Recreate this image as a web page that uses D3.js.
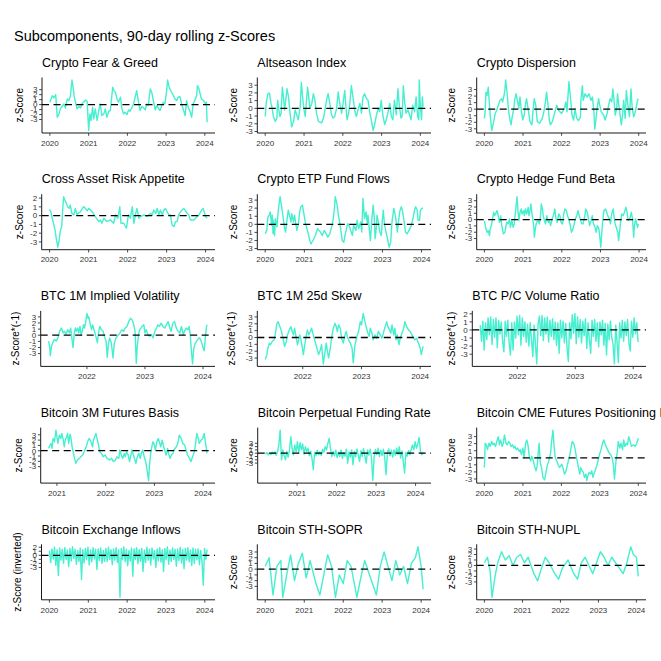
<!DOCTYPE html>
<html>
<head>
<meta charset="utf-8">
<script src="https://cdn.jsdelivr.net/npm/d3@7"></script>
<style>
  body { margin: 0; background: #fff; }
  text { font-family: "Liberation Sans", Arial, sans-serif; }
</style>
</head>
<body>
<svg id="chart" width="661" height="661"></svg>
<script>
// ---- data: [decimal year, z-score] ----
const fearGreed = [[2020.00,0.47],[2020.06,1.8],[2020.10,1.33],[2020.15,2.0],[2020.19,-2.53],[2020.23,-2.0],[2020.27,-0.87],[2020.36,0.13],[2020.40,-0.67],[2020.45,1.13],[2020.49,0.8],[2020.53,1.8],[2020.57,4.93],[2020.60,3.47],[2020.63,1.47],[2020.67,0.13],[2020.70,-0.87],[2020.75,-0.4],[2020.79,-0.67],[2020.83,0.27],[2020.87,0.47],[2020.92,0.93],[2020.96,0.67],[2021.00,-5.2],[2021.03,-1.87],[2021.06,-3.2],[2021.10,-0.53],[2021.13,-2.87],[2021.17,-0.87],[2021.22,-3.2],[2021.26,-1.2],[2021.30,0.13],[2021.34,-2.2],[2021.39,-1.87],[2021.43,-0.87],[2021.47,-2.53],[2021.52,-1.33],[2021.56,-1.2],[2021.59,1.13],[2021.62,3.47],[2021.65,2.8],[2021.69,2.47],[2021.73,1.13],[2021.77,0.47],[2021.82,1.47],[2021.86,-0.87],[2021.90,-1.87],[2021.94,-1.53],[2021.99,-2.0],[2022.03,-1.07],[2022.07,-1.33],[2022.12,-0.53],[2022.16,0.13],[2022.20,1.47],[2022.24,2.8],[2022.28,0.8],[2022.33,-1.2],[2022.37,-0.4],[2022.42,-0.67],[2022.46,-1.07],[2022.50,0.13],[2022.54,-0.2],[2022.59,3.13],[2022.63,2.47],[2022.67,0.8],[2022.72,-1.07],[2022.76,-0.2],[2022.80,-0.67],[2022.84,-1.2],[2022.89,-0.2],[2022.93,0.47],[2022.97,0.13],[2023.01,2.47],[2023.04,4.93],[2023.08,3.47],[2023.14,2.47],[2023.19,1.8],[2023.23,1.13],[2023.27,0.8],[2023.31,1.47],[2023.36,1.6],[2023.40,0.13],[2023.44,-0.87],[2023.49,-2.2],[2023.53,0.8],[2023.57,-0.53],[2023.61,-1.2],[2023.66,-2.53],[2023.70,0.13],[2023.74,0.8],[2023.79,1.8],[2023.81,3.8],[2023.85,3.13],[2023.87,2.47],[2023.91,1.13],[2023.97,0.8],[2024.02,0.13],[2024.04,0.47],[2024.06,-3.53]];

const altseason = [[2020.00,-1.05],[2020.03,0.84],[2020.07,1.9],[2020.11,1.98],[2020.13,1.27],[2020.15,0.63],[2020.18,0],[2020.21,-1.05],[2020.26,-1.69],[2020.30,-1.27],[2020.32,1.05],[2020.35,-0.21],[2020.38,-1.05],[2020.41,-0.63],[2020.44,2.74],[2020.47,1.48],[2020.50,-0.21],[2020.53,1.05],[2020.56,2.53],[2020.60,1.48],[2020.64,-0.63],[2020.68,-2.41],[2020.73,-1.69],[2020.77,-0.21],[2020.81,-0.84],[2020.85,-1.48],[2020.90,0.21],[2020.93,3.38],[2020.97,1.05],[2021.00,-0.21],[2021.03,-1.05],[2021.09,2.74],[2021.12,1.48],[2021.15,0],[2021.20,0.63],[2021.24,1.9],[2021.28,1.05],[2021.32,-0.63],[2021.37,-1.69],[2021.45,-1.9],[2021.50,-1.27],[2021.54,-0.21],[2021.58,1.05],[2021.62,1.9],[2021.67,0.42],[2021.71,-0.84],[2021.75,-1.27],[2021.79,-1.05],[2021.84,0],[2021.88,2.11],[2021.92,0.63],[2021.97,-0.63],[2022.01,0.84],[2022.05,2.32],[2022.08,0.21],[2022.11,-1.48],[2022.15,-0.63],[2022.18,0.63],[2022.22,2.95],[2022.26,1.48],[2022.31,-0.42],[2022.35,-1.05],[2022.39,-0.21],[2022.44,0.63],[2022.48,-0.63],[2022.52,1.48],[2022.56,1.9],[2022.61,1.27],[2022.65,1.05],[2022.69,-0.42],[2022.74,-1.69],[2022.78,-2.87],[2022.82,-2.11],[2022.86,-1.05],[2022.91,0],[2022.95,-0.42],[2022.99,1.05],[2023.03,-0.84],[2023.08,-2.11],[2023.12,-1.48],[2023.16,-0.63],[2023.21,0.63],[2023.25,-1.05],[2023.29,-1.48],[2023.33,1.05],[2023.38,-0.84],[2023.42,2.53],[2023.46,0.21],[2023.50,-1.27],[2023.53,-1.05],[2023.56,2.95],[2023.59,1.05],[2023.63,-0.63],[2023.68,-0.21],[2023.72,-0.84],[2023.76,-1.48],[2023.80,0.42],[2023.85,-0.42],[2023.89,1.48],[2023.93,-1.05],[2023.96,-1.48],[2023.97,3.67],[2024.00,0.21],[2024.03,-1.48],[2024.05,1.48],[2024.07,0.21]];

const dispersion = [[2020.00,-1.4],[2020.02,-0.4],[2020.04,2.6],[2020.07,2.1],[2020.10,3.35],[2020.13,0.85],[2020.15,-0.9],[2020.19,-3.25],[2020.24,-1.9],[2020.28,-0.65],[2020.32,-0.15],[2020.36,0.6],[2020.40,1.35],[2020.45,1.6],[2020.47,1.1],[2020.50,1.85],[2020.53,2.85],[2020.55,4.45],[2020.59,2.35],[2020.62,0.1],[2020.66,-1.65],[2020.69,-2.4],[2020.72,-1.15],[2020.76,0.1],[2020.79,1.6],[2020.82,2.35],[2020.86,1.1],[2020.89,0.1],[2020.92,1.85],[2020.96,-0.4],[2020.99,-1.65],[2021.03,-0.9],[2021.06,0.6],[2021.09,1.6],[2021.13,0.1],[2021.18,-1.9],[2021.23,-2.4],[2021.26,-0.15],[2021.29,1.6],[2021.33,0.6],[2021.37,-1.9],[2021.43,-2.15],[2021.50,-1.4],[2021.54,-0.4],[2021.58,1.1],[2021.61,2.6],[2021.65,0.6],[2021.68,-1.65],[2021.71,-2.4],[2021.76,-1.9],[2021.83,-0.4],[2021.87,0.6],[2021.92,-0.15],[2022.00,-0.65],[2022.07,0.1],[2022.11,1.1],[2022.14,-0.4],[2022.19,4.2],[2022.23,1.85],[2022.27,-0.9],[2022.31,-1.65],[2022.35,0.1],[2022.39,-1.4],[2022.44,-1.75],[2022.49,-1.15],[2022.50,1.35],[2022.54,3.6],[2022.56,1.35],[2022.61,2.35],[2022.66,1.85],[2022.71,2.35],[2022.76,1.35],[2022.80,1.85],[2022.84,-0.4],[2022.86,-3.05],[2022.89,-1.65],[2022.92,0.1],[2022.96,1.6],[2022.99,0.6],[2023.03,-0.4],[2023.09,-0.9],[2023.13,-1.65],[2023.18,-0.65],[2023.22,0.6],[2023.26,1.6],[2023.30,1.1],[2023.33,3.1],[2023.36,1.35],[2023.39,-0.9],[2023.43,0.1],[2023.45,2.35],[2023.49,0.35],[2023.55,-2.4],[2023.58,-0.9],[2023.61,1.35],[2023.65,-1.4],[2023.68,2.85],[2023.72,0.6],[2023.76,-1.15],[2023.80,3.1],[2023.83,0.35],[2023.87,-1.15],[2023.90,-0.65],[2023.93,0.1],[2023.97,1.35],[2023.99,1.6]];

const crossAsset = [[2020.00,0.72],[2020.03,0.45],[2020.07,-0.3],[2020.10,-0.87],[2020.14,-1.63],[2020.17,-2.58],[2020.21,-3.6],[2020.24,-2.95],[2020.27,-1.82],[2020.31,-1.25],[2020.34,1.02],[2020.36,2.16],[2020.39,1.78],[2020.43,1.4],[2020.46,1.02],[2020.50,0.83],[2020.53,1.21],[2020.57,0.27],[2020.62,0.08],[2020.66,0.83],[2020.70,0.15],[2020.79,0.45],[2020.87,1.02],[2020.92,0.83],[2020.96,0.53],[2021.00,0.83],[2021.09,0.45],[2021.17,-0.11],[2021.26,-0.68],[2021.30,-0.49],[2021.34,-0.87],[2021.39,-0.3],[2021.47,-0.68],[2021.56,-0.49],[2021.64,-0.87],[2021.69,0.08],[2021.75,-0.3],[2021.78,0.45],[2021.80,1.02],[2021.83,-0.87],[2021.90,-0.87],[2021.97,-1.44],[2022.02,0.08],[2022.07,-0.3],[2022.12,1.02],[2022.16,-0.87],[2022.20,0.08],[2022.24,0.83],[2022.29,-0.3],[2022.33,-0.11],[2022.42,0.08],[2022.50,-0.11],[2022.59,0.27],[2022.63,0.08],[2022.67,0.64],[2022.72,0.27],[2022.76,0.83],[2022.80,0.08],[2022.84,0.64],[2022.89,0.08],[2022.93,0.64],[2022.97,0.83],[2023.01,0.45],[2023.06,0.08],[2023.10,0.08],[2023.14,-1.06],[2023.19,-1.25],[2023.23,-0.68],[2023.27,-0.68],[2023.31,0.08],[2023.36,0.45],[2023.40,0.64],[2023.44,0.83],[2023.53,0.27],[2023.57,0.08],[2023.61,-0.49],[2023.70,-0.49],[2023.74,-0.3],[2023.83,0.08],[2023.90,0.64],[2023.94,0.83],[2024.00,-0.11],[2024.04,-0.3]];

const etpFlows = [[2020.00,-1.17],[2020.04,-0.75],[2020.07,0.92],[2020.10,1.13],[2020.13,1.54],[2020.15,0.5],[2020.16,-0.13],[2020.18,1.13],[2020.20,-1.17],[2020.21,0.5],[2020.24,-1.38],[2020.26,0.71],[2020.30,-0.33],[2020.33,1.54],[2020.38,3.42],[2020.42,2.17],[2020.45,1.13],[2020.49,-0.33],[2020.52,-0.96],[2020.56,0.71],[2020.59,1.75],[2020.62,1.13],[2020.66,0.29],[2020.68,1.33],[2020.72,0.29],[2020.75,1.13],[2020.78,0.08],[2020.81,-0.75],[2020.85,0.08],[2020.88,1.54],[2020.91,2.17],[2020.95,2.38],[2020.98,1.54],[2021.03,0.08],[2021.09,-0.96],[2021.14,-2.0],[2021.17,-2.42],[2021.22,-2.0],[2021.28,-1.38],[2021.34,-0.54],[2021.41,-0.96],[2021.46,-1.38],[2021.51,-0.75],[2021.56,-1.17],[2021.60,-1.58],[2021.65,-1.17],[2021.71,-0.13],[2021.74,0.71],[2021.77,1.96],[2021.79,3.42],[2021.84,2.38],[2021.87,1.13],[2021.91,0.08],[2021.94,-0.96],[2021.97,-2.0],[2022.01,-2.21],[2022.04,-1.38],[2022.08,-0.54],[2022.11,0.08],[2022.16,-0.33],[2022.20,-0.96],[2022.23,-1.38],[2022.26,-0.13],[2022.32,-0.75],[2022.35,0.5],[2022.39,-0.54],[2022.44,0.29],[2022.47,-0.96],[2022.50,3.21],[2022.54,0.71],[2022.58,1.54],[2022.61,0.08],[2022.63,1.13],[2022.67,-0.96],[2022.69,-2.0],[2022.73,0.71],[2022.76,2.38],[2022.79,0.92],[2022.81,-1.79],[2022.84,-0.54],[2022.86,1.13],[2022.90,0.08],[2022.93,-0.96],[2022.97,-1.38],[2023.00,0.71],[2023.02,1.75],[2023.05,0.08],[2023.09,-0.96],[2023.12,-1.58],[2023.17,-2.83],[2023.21,-2.21],[2023.24,0.08],[2023.26,0.92],[2023.29,1.96],[2023.32,1.33],[2023.36,0.08],[2023.38,-0.96],[2023.41,0.29],[2023.44,1.54],[2023.48,2.17],[2023.51,1.75],[2023.55,0.5],[2023.59,-0.96],[2023.63,-1.17],[2023.68,-0.75],[2023.74,-0.13],[2023.79,0.92],[2023.82,1.75],[2023.85,2.17],[2023.89,1.75],[2023.91,0.5],[2023.95,0.5],[2023.97,1.75],[2024.01,1.96],[2024.04,2.04]];

const hedgeBeta = [[2020.00,-0.16],[2020.03,-1.21],[2020.07,-2.0],[2020.10,-1.74],[2020.13,-2.53],[2020.15,-1.47],[2020.18,-0.95],[2020.21,0.11],[2020.24,1.16],[2020.26,0.63],[2020.29,0.89],[2020.32,1.42],[2020.34,1.16],[2020.37,0.11],[2020.39,-0.42],[2020.42,0.63],[2020.45,-0.95],[2020.49,-2.26],[2020.53,-2.0],[2020.55,-1.21],[2020.58,-0.42],[2020.61,-0.68],[2020.65,0.11],[2020.67,-1.21],[2020.71,-0.16],[2020.74,-1.21],[2020.77,-0.68],[2020.81,1.68],[2020.84,3.63],[2020.87,1.16],[2020.89,-0.16],[2020.92,1.16],[2020.95,1.68],[2020.97,0.89],[2021.01,1.42],[2021.03,0.63],[2021.06,1.68],[2021.09,0.89],[2021.13,1.95],[2021.15,0.63],[2021.18,1.42],[2021.20,2.47],[2021.23,0.89],[2021.25,0.11],[2021.28,-1.47],[2021.29,-2.79],[2021.32,-1.21],[2021.35,-0.42],[2021.39,-0.16],[2021.42,-0.68],[2021.45,0.63],[2021.47,2.47],[2021.50,1.68],[2021.52,0.63],[2021.55,-0.16],[2021.58,-0.68],[2021.61,0.63],[2021.65,-0.42],[2021.68,-0.16],[2021.71,-0.95],[2021.75,0.11],[2021.78,0.63],[2021.82,1.68],[2021.85,0.11],[2021.88,-0.42],[2021.92,0.89],[2021.95,0.63],[2021.98,-0.42],[2022.02,-0.68],[2022.05,0.89],[2022.08,1.68],[2022.12,1.42],[2022.15,0.63],[2022.18,0.11],[2022.22,-0.95],[2022.25,-2.0],[2022.29,-1.47],[2022.32,-0.68],[2022.35,0.11],[2022.39,0.63],[2022.42,1.42],[2022.45,0.63],[2022.49,-0.16],[2022.52,-0.68],[2022.55,-0.68],[2022.59,0.37],[2022.62,1.68],[2022.66,1.16],[2022.69,0.11],[2022.72,-0.95],[2022.76,-0.16],[2022.79,0.63],[2022.82,-0.68],[2022.86,-1.21],[2022.89,-2.0],[2022.92,-0.95],[2022.96,-1.47],[2022.98,-2.53],[2023.01,-4.37],[2023.03,-2.53],[2023.06,-0.16],[2023.09,1.42],[2023.13,1.68],[2023.16,1.16],[2023.19,0.63],[2023.23,0.11],[2023.26,-0.68],[2023.29,0.89],[2023.33,1.68],[2023.35,0.63],[2023.38,-0.68],[2023.41,-1.21],[2023.45,-2.0],[2023.47,-3.32],[2023.50,-1.74],[2023.52,-0.42],[2023.55,0.89],[2023.59,0.63],[2023.62,1.16],[2023.66,1.95],[2023.69,1.16],[2023.72,-0.16],[2023.76,0.11],[2023.80,1.16],[2023.83,0.11],[2023.86,-2.79],[2023.88,-0.95],[2023.91,0.11],[2023.93,-0.42],[2023.96,-1.21],[2023.98,-0.68]];

const impliedVol = [[2021.34,-0.96],[2021.36,-2.02],[2021.37,-3.35],[2021.39,-1.76],[2021.41,-1.22],[2021.44,-0.69],[2021.47,-0.96],[2021.50,-0.43],[2021.53,0.64],[2021.56,1.17],[2021.59,0.37],[2021.61,0.64],[2021.64,0.21],[2021.67,0.9],[2021.70,0.37],[2021.72,1.17],[2021.74,-0.43],[2021.76,-2.02],[2021.78,0.11],[2021.80,1.17],[2021.82,0.64],[2021.84,1.17],[2021.86,0.37],[2021.88,1.44],[2021.90,0.11],[2021.92,0.64],[2021.94,1.7],[2021.96,1.17],[2021.98,2.23],[2022.00,3.56],[2022.02,2.77],[2022.03,3.03],[2022.06,1.7],[2022.08,0.9],[2022.10,1.7],[2022.13,0.64],[2022.16,-0.43],[2022.18,-1.22],[2022.20,0.37],[2022.22,1.44],[2022.25,0.9],[2022.28,0.64],[2022.30,-0.16],[2022.33,-0.96],[2022.35,-3.62],[2022.37,-1.49],[2022.39,-0.43],[2022.42,-1.22],[2022.45,-3.72],[2022.47,-1.49],[2022.49,-0.69],[2022.52,-0.16],[2022.55,0.11],[2022.57,0.37],[2022.60,0.9],[2022.63,0.64],[2022.66,1.17],[2022.69,1.44],[2022.72,2.23],[2022.75,2.77],[2022.78,2.5],[2022.80,1.97],[2022.83,0.64],[2022.85,-4.57],[2022.87,-1.49],[2022.89,0.11],[2022.91,0.9],[2022.93,1.17],[2022.95,1.44],[2022.98,1.7],[2023.00,0.37],[2023.02,0.9],[2023.05,0.11],[2023.08,-0.16],[2023.11,0.11],[2023.14,-0.43],[2023.17,0.64],[2023.20,1.17],[2023.22,1.7],[2023.25,1.44],[2023.28,1.97],[2023.31,1.44],[2023.34,1.17],[2023.37,1.7],[2023.40,2.23],[2023.43,1.17],[2023.45,0.64],[2023.48,1.97],[2023.51,2.23],[2023.54,1.17],[2023.57,0.64],[2023.60,0.37],[2023.63,1.44],[2023.66,0.11],[2023.68,0.64],[2023.71,1.17],[2023.74,0.9],[2023.76,1.44],[2023.78,0.11],[2023.80,-2.55],[2023.82,-4.68],[2023.84,-2.29],[2023.86,-1.49],[2023.89,-0.96],[2023.91,-0.69],[2023.94,-0.43],[2023.97,-0.96],[2024.00,-2.02],[2024.02,-2.55],[2024.04,-0.43],[2024.06,1.44],[2024.07,1.7]];

const skew25d = [[2021.36,-3.22],[2021.39,-2.5],[2021.40,-1.78],[2021.43,-0.82],[2021.45,-1.06],[2021.48,-0.58],[2021.51,-0.34],[2021.53,0.38],[2021.56,2.07],[2021.58,2.31],[2021.60,1.83],[2021.63,1.11],[2021.65,0.38],[2021.67,-0.34],[2021.69,-1.3],[2021.72,-0.58],[2021.74,0.38],[2021.77,1.11],[2021.80,1.59],[2021.82,0.87],[2021.84,0.38],[2021.86,1.35],[2021.89,-0.1],[2021.91,-1.06],[2021.93,-0.34],[2021.95,0.38],[2021.98,-0.82],[2022.01,-2.5],[2022.03,-1.3],[2022.06,0.38],[2022.08,1.11],[2022.10,0.38],[2022.13,0.87],[2022.15,1.35],[2022.18,0.38],[2022.21,-0.58],[2022.24,-1.54],[2022.27,-2.5],[2022.30,-1.78],[2022.32,-1.06],[2022.35,-3.85],[2022.38,-2.02],[2022.40,-0.82],[2022.42,-2.02],[2022.44,-2.98],[2022.47,-1.54],[2022.49,-0.1],[2022.52,1.35],[2022.55,2.07],[2022.57,1.59],[2022.59,0.87],[2022.61,1.83],[2022.64,1.35],[2022.66,-0.1],[2022.69,-0.82],[2022.72,0.38],[2022.74,0.87],[2022.76,0.14],[2022.78,-0.34],[2022.81,-0.82],[2022.84,-1.54],[2022.86,-3.7],[2022.89,-1.06],[2022.91,-0.34],[2022.93,0.38],[2022.95,0.87],[2022.98,2.31],[2023.00,1.83],[2023.03,3.51],[2023.06,2.31],[2023.08,1.59],[2023.10,0.87],[2023.13,0.14],[2023.15,1.35],[2023.18,0.63],[2023.20,-0.34],[2023.23,0.38],[2023.26,-0.1],[2023.29,0.87],[2023.32,0.38],[2023.35,-0.1],[2023.38,0.87],[2023.43,2.31],[2023.45,1.59],[2023.48,1.11],[2023.50,0.63],[2023.52,1.83],[2023.55,0.38],[2023.57,1.35],[2023.59,-0.34],[2023.61,0.38],[2023.64,-1.06],[2023.66,-0.1],[2023.69,0.63],[2023.72,1.35],[2023.74,2.31],[2023.77,1.59],[2023.80,1.11],[2023.83,0.87],[2023.86,0.38],[2023.89,-0.1],[2023.91,-0.34],[2023.94,-0.1],[2023.97,-0.82],[2024.00,-1.54],[2024.02,-2.5],[2024.05,-1.3]];

// evenly spaced readings (start year, step in years, values)
const pcStart = 2021.36, pcStep = 0.0227;
const pcValues = [0.6,-1.4,1.1,-2.5,0.9,-1.2,1.5,-0.6,1.6,-1.8,1.3,-0.9,1.5,-2.2,1.2,-0.5,1.0,-1.3,-2.7,1.1,-0.8,1.2,-1.6,-3.1,0.9,-2.5,1.0,-1.0,1.7,-0.6,1.8,-1.9,1.5,-0.8,1.0,-1.5,0.7,-2.0,0.9,-1.2,-3.3,0.6,-1.8,-4.2,0.8,1.7,-0.7,1.8,-1.3,1.5,-0.5,1.6,-1.5,1.2,-0.8,1.4,-1.2,1.0,-1.9,0.9,-2.9,1.2,-1.0,1.1,-1.6,0.8,-2.2,-3.9,0.9,-1.1,1.9,-0.4,2.05,-1.7,1.6,-0.9,1.3,-1.6,1.1,-0.7,1.4,-2.3,0.9,-1.2,-2.9,1.2,-0.8,1.3,-1.4,0.9,-2.1,1.0,-0.6,1.2,-1.9,0.8,-3.1,0.7,-1.2,1.1,-0.9,-1.8,-4.2,0.6,-1.5,-4.05,0.9,-1.0,1.2,-1.4,1.0,-0.7,1.3,-1.6,-2.6,1.1,-0.9,1.5,-0.5,0.9,-1.5];

const basis3m = [[2020.83,0.44],[2020.86,1.06],[2020.88,1.38],[2020.90,0.44],[2020.92,2.31],[2020.95,1.69],[2020.98,3.88],[2021.00,2.63],[2021.02,1.38],[2021.05,2.94],[2021.08,2.31],[2021.10,3.25],[2021.13,2.0],[2021.15,0.75],[2021.17,2.0],[2021.20,2.63],[2021.22,3.25],[2021.24,1.38],[2021.27,3.13],[2021.29,2.31],[2021.31,0.75],[2021.34,-0.5],[2021.36,-1.44],[2021.39,-2.38],[2021.42,-1.75],[2021.46,-1.44],[2021.49,-1.13],[2021.53,-0.81],[2021.56,-0.19],[2021.60,0.75],[2021.63,1.69],[2021.66,2.31],[2021.70,1.69],[2021.73,0.75],[2021.75,2.0],[2021.80,3.25],[2021.83,2.0],[2021.86,0.75],[2021.88,-0.19],[2021.91,-0.5],[2021.95,-1.13],[2021.99,-0.81],[2022.03,-1.44],[2022.08,-1.75],[2022.12,-1.44],[2022.16,-2.06],[2022.20,-1.75],[2022.23,-1.13],[2022.27,-1.44],[2022.29,0.13],[2022.32,-0.81],[2022.35,-1.44],[2022.38,-0.5],[2022.40,-1.13],[2022.43,-0.19],[2022.46,-0.81],[2022.49,-2.06],[2022.51,-1.13],[2022.54,0.13],[2022.57,-0.81],[2022.60,-1.75],[2022.62,-2.38],[2022.65,-1.13],[2022.68,-0.5],[2022.71,-1.44],[2022.73,-0.5],[2022.76,0.13],[2022.79,-1.13],[2022.82,-2.06],[2022.84,-3.0],[2022.88,-5.63],[2022.90,-2.69],[2022.92,-0.81],[2022.94,0.44],[2022.97,1.69],[2022.99,1.38],[2023.02,0.13],[2023.05,1.69],[2023.08,2.31],[2023.10,1.69],[2023.13,0.75],[2023.16,2.0],[2023.18,1.06],[2023.21,0.13],[2023.24,-0.81],[2023.27,0.44],[2023.29,-0.5],[2023.32,-1.44],[2023.35,-0.81],[2023.38,-0.5],[2023.40,0.13],[2023.45,0.75],[2023.48,1.38],[2023.51,2.94],[2023.55,2.31],[2023.58,1.38],[2023.62,1.06],[2023.65,0.13],[2023.68,-0.81],[2023.72,-1.44],[2023.75,-2.06],[2023.79,-0.94],[2023.82,-0.19],[2023.84,1.06],[2023.87,3.25],[2023.90,2.31],[2023.92,1.38],[2023.96,2.0],[2023.99,2.31],[2024.02,3.25],[2024.05,1.38],[2024.08,-0.5]];

const fundStart = 2020.204, fundStep = 0.0335;
const fundValues = [-0.3,0.2,-0.5,0.1,-0.4,0.3,-0.2,0.4,-0.6,0.5,2.5,7.0,-2.0,1.0,-0.8,-2.0,0.5,-1.2,0.8,5.0,1.5,-0.5,2.5,0.5,3.5,0.2,3.2,1.0,2.8,-0.3,2.0,0.5,1.5,-0.8,0.6,-1.5,-5.0,0.3,-0.8,0.9,-0.5,0.4,-0.7,1.2,0.3,2.0,1.0,3.0,4.5,1.5,-1.0,0.5,-0.8,0.9,-1.3,0.3,-1.0,1.0,-1.6,0.2,-0.9,1.2,-3.0,0.4,-1.2,1.0,-3.5,0.5,-1.1,1.3,-0.6,-2.5,0.8,-1.0,1.4,-0.8,-3.0,1.0,-0.6,1.2,-1.4,-8.3,-1.0,1.1,-0.4,1.5,-1.0,0.9,-0.7,1.2,-1.5,-6.5,0.3,1.3,-0.8,0.9,-1.2,1.0,-0.6,1.5,-0.4,2.0,-1.5,0.7,-2.5,-6.0,0.2,-0.9,0.8,-0.5,1.2,2.5,1.0,3.5,1.5,2.8,4.8,0.5,-0.5,0.2];

const cmePositioning = [[2020.00,-1.38],[2020.02,2.07],[2020.05,1.84],[2020.08,1.15],[2020.12,2.07],[2020.15,1.61],[2020.19,2.3],[2020.22,1.84],[2020.25,2.07],[2020.29,1.61],[2020.32,2.3],[2020.36,3.0],[2020.39,1.84],[2020.42,2.53],[2020.46,1.61],[2020.49,2.07],[2020.52,3.23],[2020.56,2.07],[2020.59,1.84],[2020.63,2.3],[2020.66,2.07],[2020.69,1.61],[2020.73,1.84],[2020.76,1.38],[2020.79,1.61],[2020.83,1.15],[2020.86,1.38],[2020.90,0.92],[2020.93,1.15],[2020.96,0.46],[2021.00,1.38],[2021.03,0],[2021.07,2.07],[2021.10,2.53],[2021.13,1.84],[2021.17,0],[2021.20,-0.46],[2021.23,0.23],[2021.27,-0.46],[2021.30,-1.15],[2021.34,-1.84],[2021.37,-1.15],[2021.40,0.92],[2021.42,2.07],[2021.45,-0.69],[2021.49,-1.61],[2021.52,-2.76],[2021.56,-3.13],[2021.60,-2.07],[2021.63,-1.15],[2021.67,-0.46],[2021.72,0.69],[2021.74,2.07],[2021.78,3.92],[2021.81,1.61],[2021.84,0],[2021.88,-0.46],[2021.91,-0.92],[2021.95,-1.38],[2021.98,-1.15],[2022.01,-0.92],[2022.05,-1.61],[2022.08,-2.3],[2022.11,-2.07],[2022.15,-1.15],[2022.18,-0.46],[2022.22,0.46],[2022.25,1.38],[2022.28,2.3],[2022.32,2.07],[2022.35,1.38],[2022.38,0.46],[2022.42,-0.69],[2022.45,-1.61],[2022.48,-2.3],[2022.50,-1.38],[2022.54,-1.84],[2022.57,-2.07],[2022.60,-2.76],[2022.64,-2.3],[2022.66,-3.23],[2022.69,-2.53],[2022.72,-2.07],[2022.76,-2.3],[2022.79,-1.84],[2022.82,-2.76],[2022.86,-2.07],[2022.89,-1.61],[2022.93,-0.92],[2022.96,-0.23],[2022.99,0.46],[2023.03,1.15],[2023.06,1.84],[2023.10,2.53],[2023.13,2.07],[2023.16,1.61],[2023.20,1.15],[2023.24,0.69],[2023.28,0.46],[2023.32,0],[2023.35,-0.92],[2023.38,-3.0],[2023.42,-0.46],[2023.45,0.69],[2023.48,2.3],[2023.52,1.38],[2023.55,2.07],[2023.59,1.15],[2023.62,2.53],[2023.65,1.61],[2023.69,2.07],[2023.72,1.84],[2023.75,3.0],[2023.79,2.3],[2023.82,1.61],[2023.87,1.84],[2023.92,1.61],[2023.96,2.07],[2024.00,2.76]];

const inflowStart = 2020.0, inflowStep = 0.033;
const inflowValues = [1.2,-1.8,1.6,-0.9,2.0,-2.5,1.4,-5.0,1.8,-1.2,1.5,-2.0,1.9,-1.0,1.3,-2.8,1.7,-1.4,2.1,-0.8,1.5,-2.2,1.2,-1.5,1.8,-6.0,1.4,-1.9,1.7,-1.1,2.0,-2.4,1.3,-1.6,1.9,-0.9,1.5,-3.5,1.6,-1.3,1.8,-2.0,1.2,-1.5,1.7,-1.5,2.0,-1.0,1.4,-2.3,1.6,-1.2,1.9,-1.8,1.3,-10.4,1.7,-1.1,2.1,-1.6,1.5,-2.6,1.2,-1.4,1.8,-5.2,1.6,-1.0,1.9,-2.1,1.4,-1.5,1.7,-4.0,1.3,-1.8,2.0,-1.2,1.5,-2.4,1.8,-0.9,1.2,-3.0,1.6,-1.4,1.9,-1.7,1.4,-4.0,1.7,-1.1,2.1,-2.2,1.3,-1.5,1.8,-1.0,1.5,-2.7,1.6,-1.3,2.0,-1.9,1.4,-3.3,1.7,-1.2,1.9,-1.6,1.3,-2.5,1.8,-2.0,1.5,-1.1,1.6,-2.3,1.2,-1.4,-7.4,1.7,-1.0,1.4];

const sthSopr = [[2020.0,0.5],[2020.1,2.0],[2020.2,-4.5],[2020.3,0.5],[2020.4,1.5],[2020.45,-4.9],[2020.55,-1],[2020.65,2.5],[2020.75,-2],[2020.85,1],[2020.95,2.8],[2021.05,-1.5],[2021.15,1.5],[2021.3,-2.5],[2021.4,-4.5],[2021.5,-1],[2021.6,2.5],[2021.7,0.5],[2021.8,-4.9],[2021.9,-1],[2022.0,-2.5],[2022.1,1.5],[2022.2,0.5],[2022.3,-3],[2022.35,-4.9],[2022.45,-1.5],[2022.55,1.5],[2022.65,-0.5],[2022.75,-2.5],[2022.85,-4.5],[2022.95,0.5],[2023.05,3.0],[2023.15,0.5],[2023.25,-2],[2023.35,1.5],[2023.45,-1],[2023.55,0.5],[2023.65,-2.5],[2023.75,1],[2023.85,2],[2023.92,3.9],[2024.0,0.5],[2024.05,-3.5]];

const sthNupl = [[2020.0,0.5],[2020.08,1.5],[2020.15,-1],[2020.2,-5.8],[2020.28,-2],[2020.35,0.5],[2020.45,2.5],[2020.55,1],[2020.65,1.8],[2020.75,0],[2020.85,1.5],[2020.95,2.0],[2021.05,0.5],[2021.15,1.5],[2021.3,-1.5],[2021.4,-2.8],[2021.5,-0.5],[2021.6,1.5],[2021.7,0.5],[2021.85,-1.5],[2021.95,-2.5],[2022.05,-0.5],[2022.2,1.0],[2022.35,-1.5],[2022.45,-2.5],[2022.55,0.5],[2022.65,1.5],[2022.75,0],[2022.85,-1.5],[2022.95,0.5],[2023.05,2.5],[2023.15,1.5],[2023.25,0],[2023.35,1.5],[2023.45,0.5],[2023.55,-0.5],[2023.65,-1.5],[2023.75,0.5],[2023.85,3.4],[2023.92,2.0],[2024.0,1.5],[2024.05,-2.0]];

const yTicks = [-3, -2, -1, 0, 1, 2, 3];

// ---- helpers ----
const evenly = (start, step, values) => values.map((v, i) => [start + i * step, v]);

const yearToDate = (t) => {
  const y = Math.floor(t);
  const a = Date.UTC(y, 0, 1);
  const b = Date.UTC(y + 1, 0, 1);
  return new Date(a + (t - y) * (b - a));
};

// ggplot-style 5% padding on both ends
const expand = ([lo, hi]) => {
  const pad = (hi - lo) * 0.05;
  return [lo - pad, hi + pad];
};

const panels = [
  { title: 'Crypto Fear & Greed', ylab: 'z-Score', data: fearGreed, axisX: 42, titleX: 23 },
  { title: 'Altseason Index', ylab: 'z-Score', data: altseason, axisX: 257.3, titleX: 237 },
  { title: 'Crypto Dispersion', ylab: 'z-Score', data: dispersion, axisX: 476.7, titleX: 454.5 },
  { title: 'Cross Asset Risk Appetite', ylab: 'z-Score', data: crossAsset, axisX: 41.7, titleX: 23 },
  { title: 'Crypto ETP Fund Flows', ylab: 'z-Score', data: etpFlows, axisX: 257.3, titleX: 237 },
  { title: 'Crypto Hedge Fund Beta', ylab: 'z-Score', data: hedgeBeta, axisX: 476.7, titleX: 454.5 },
  { title: 'BTC 1M Implied Volatility', ylab: 'z-Score*(-1)', data: impliedVol, axisX: 40.7, titleX: 19 },
  { title: 'BTC 1M 25d Skew', ylab: 'z-Score*(-1)', data: skew25d, axisX: 257.3, titleX: 235 },
  { title: 'BTC P/C Volume Ratio', ylab: 'z-Score*(-1)', data: evenly(pcStart, pcStep, pcValues), axisX: 472.3, titleX: 454.5 },
  { title: 'Bitcoin 3M Futures Basis', ylab: 'z-Score', data: basis3m, axisX: 40.7, titleX: 22 },
  { title: 'Bitcoin Perpetual Funding Rate', ylab: 'z-Score', data: evenly(fundStart, fundStep, fundValues), axisX: 257.7, titleX: 237 },
  { title: 'Bitcoin CME Futures Positioning Ratio', ylab: 'z-Score', data: cmePositioning, axisX: 476.7, titleX: 454.5 },
  { title: 'Bitcoin Exchange Inflows', ylab: 'z-Score (inverted)', data: evenly(inflowStart, inflowStep, inflowValues), axisX: 41.5, titleX: 21 },
  { title: 'Bitcoin STH-SOPR', ylab: 'z-Score', data: sthSopr, axisX: 257.3, titleX: 237 },
  { title: 'Bitcoin STH-NUPL', ylab: 'z-Score', data: sthNupl, axisX: 476.7, titleX: 454.5 }
];

// ---- layout ----
const rowTop = [77.5, 194.2, 310.9, 427.6, 544.3];
const panelH = 55.5;
const colRight = [215, 431, 646];
const lineColor = '#45efcf';

const svg = d3.select('#chart');

svg.append('text')
  .attr('x', 14)
  .attr('y', 41)
  .attr('font-size', 14.5)
  .attr('fill', '#000')
  .text('Subcomponents, 90-day rolling z-Scores');

panels.forEach((p, idx) => {
  const row = Math.floor(idx / 3);
  const col = idx % 3;
  const top = rowTop[row];
  const bottom = top + panelH;
  const left = p.axisX;
  const right = colRight[col];

  const series = p.data.map(([t, v]) => ({ date: yearToDate(t), value: v }));

  const x = d3.scaleUtc()
    .domain(expand(d3.extent(series, (d) => +d.date)).map((ms) => new Date(ms)))
    .range([left, right]);

  const y = d3.scaleLinear()
    .domain(expand(d3.extent(series, (d) => d.value)))
    .range([bottom, top]);

  const g = svg.append('g').attr('class', 'panel');

  // panel title
  g.append('text')
    .attr('x', left)
    .attr('y', top - 10.8)
    .attr('font-size', 12.5)
    .attr('fill', '#000')
    .text(p.title);

  // y axis title
  g.append('text')
    .attr('transform', `translate(${p.titleX}, ${(top + bottom) / 2}) rotate(-90)`)
    .attr('text-anchor', 'middle')
    .attr('font-size', 10)
    .attr('fill', '#000')
    .text(p.ylab);

  // x axis
  const [d0, d1] = x.domain();
  const years = d3.utcYear.range(d3.utcYear.ceil(d0), d1);
  const xAxis = g.append('g');
  xAxis.append('line')
    .attr('x1', left).attr('x2', right)
    .attr('y1', bottom).attr('y2', bottom)
    .attr('stroke', '#000').attr('stroke-width', 0.9);
  xAxis.selectAll('.xtick')
    .data(years)
    .enter()
    .append('line')
    .attr('x1', (d) => x(d)).attr('x2', (d) => x(d))
    .attr('y1', bottom).attr('y2', bottom + 2.8)
    .attr('stroke', '#333').attr('stroke-width', 0.9);
  xAxis.selectAll('.xlab')
    .data(years)
    .enter()
    .append('text')
    .attr('x', (d) => x(d))
    .attr('y', bottom + 12.7)
    .attr('text-anchor', 'middle')
    .attr('font-size', 8)
    .attr('fill', '#333')
    .text((d) => d.getUTCFullYear());

  // y axis
  const [v0, v1] = y.domain();
  const ticks = yTicks.filter((t) => t >= v0 && t <= v1);
  const yAxis = g.append('g');
  yAxis.append('line')
    .attr('x1', left).attr('x2', left)
    .attr('y1', top).attr('y2', bottom)
    .attr('stroke', '#000').attr('stroke-width', 0.9);
  yAxis.selectAll('.ytick')
    .data(ticks)
    .enter()
    .append('line')
    .attr('x1', left - 2.8).attr('x2', left)
    .attr('y1', (d) => y(d)).attr('y2', (d) => y(d))
    .attr('stroke', '#333').attr('stroke-width', 0.9);
  yAxis.selectAll('.ylab')
    .data(ticks)
    .enter()
    .append('text')
    .attr('x', left - 4.5)
    .attr('y', (d) => y(d))
    .attr('dy', '0.35em')
    .attr('text-anchor', 'end')
    .attr('font-size', 8)
    .attr('fill', '#333')
    .text((d) => d);

  // series line
  const line = d3.line()
    .x((d) => x(d.date))
    .y((d) => y(d.value));

  g.append('path')
    .datum(series)
    .attr('d', line)
    .attr('fill', 'none')
    .attr('stroke', lineColor)
    .attr('stroke-width', 1.4)
    .attr('stroke-linejoin', 'round');

  // zero reference
  g.append('line')
    .attr('x1', left).attr('x2', right)
    .attr('y1', y(0)).attr('y2', y(0))
    .attr('stroke', '#000')
    .attr('stroke-width', 1.3)
    .attr('stroke-dasharray', '7,4.5');
});
</script>
</body>
</html>
